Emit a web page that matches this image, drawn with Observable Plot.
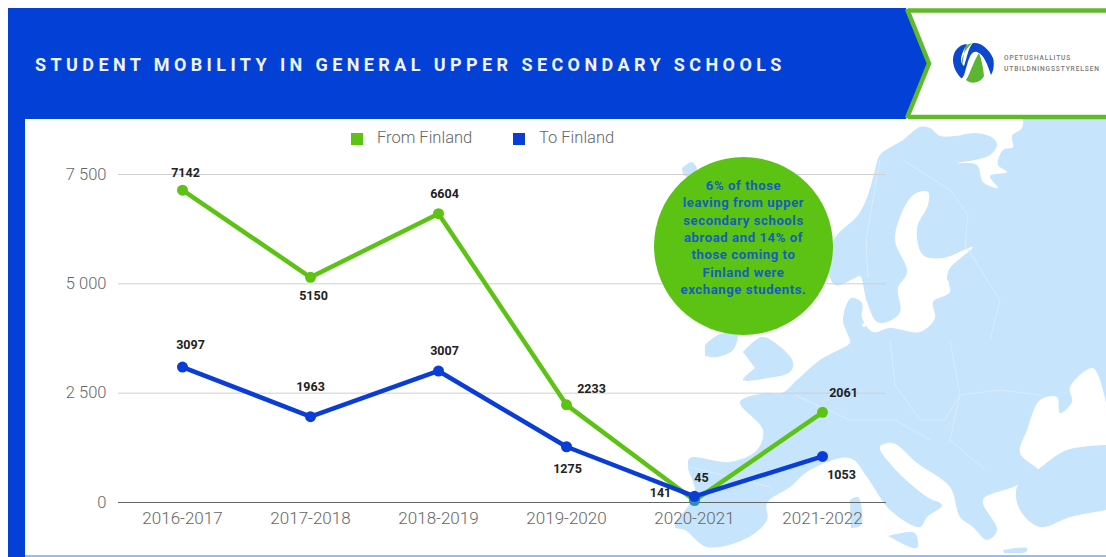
<!DOCTYPE html>
<html>
<head>
<meta charset="utf-8">
<script src="https://cdn.jsdelivr.net/npm/d3@7"></script>
<script src="https://cdn.jsdelivr.net/npm/@observablehq/plot@0.6"></script>
<style>
  html,body{margin:0;padding:0;background:#fff;}
  #stage{position:relative;width:1106px;height:557px;overflow:hidden;font-family:Roboto,sans-serif;}
  #stage>svg{position:absolute;left:0;top:0;}
  #stage>div{position:absolute;}
  #title{left:35px;top:53px;color:#eef3ff;font-weight:700;font-size:18px;letter-spacing:4.4px;white-space:nowrap;line-height:24px;}
  #stage>.lg{font-size:16.5px;font-weight:300;color:#666;line-height:20px;white-space:nowrap;top:128px;}
  #stage>.sw{width:12px;height:12px;top:133px;}
  #callout{left:654px;top:157px;width:179px;height:178px;border-radius:50%;background:#5cc314;}
  #stage>.cl{left:654px;width:179px;text-align:center;color:#1360b8;font-weight:700;font-size:13.2px;line-height:17px;white-space:nowrap;letter-spacing:.55px;}
</style>
</head>
<body>
<div id="stage"></div>
<script>
const years = ["2016-2017","2017-2018","2018-2019","2019-2020","2020-2021","2021-2022"];
const fromFinland = [7142,5150,6604,2233,45,2061];
const toFinland = [3097,1963,3007,1275,141,1053];
const yTicks = [0,2500,5000,7500];
const legendLabels = ["From Finland","To Finland"];
const titleText = "STUDENT MOBILITY IN GENERAL UPPER SECONDARY SCHOOLS";
const calloutLines = ["6% of those","leaving from upper","secondary schools","abroad and 14% of","those coming to","Finland were","exchange students."];
const logoLines = ["OPETUSHALLITUS","UTBILDNINGSSTYRELSEN"];

const GREEN="#5cc314", BLUE="#0a3dd8", TEAL="#2a8fb8", BAND="#0341d6", MAP="#c6e4fb";

// label offsets from their points, [dx, dy]
const fromOffsets=[[3,-17],[3,19],[6,-20],[25,-16],[7,-23],[21,-19]];
const toOffsets=[[8,-22],[0,-30],[6,-20],[1,22],[-34,-3],[19,19]];

const stage=document.getElementById("stage");

// Decorative background map outlines (not chart data)
const mapMain="1023,119 1022,128 1012,136 1013,147 1003,150 998,165 1007,172 990,176 998,188 983,182 977,165 957,163 975,160 990,155 997,145 993,138 975,133 955,136 940,136 930,128 920,127 903,140 880,155 875,170 868,195 858,215 835,238 828,265 835,285 855,278 860,276 867,302 877,322 887,322 900,312 898,288 907,272 895,238 913,195 928,192 928,205 917,228 923,255 943,258 973,247 950,268 947,278 950,292 933,302 935,318 920,332 890,328 873,332 862,318 862,303 851,298 843,320 850,340 850,343 820,360 797,380 782,393 765,393 740,402 763,430 757,450 730,462 690,458 688,467 695,493 675,527 685,530 707,547 747,538 767,520 767,503 790,487 810,470 850,458 867,477 890,510 920,527 927,517 942,505 927,497 893,467 880,447 893,443 917,463 950,487 960,517 973,527 987,540 997,530 983,500 1013,487 1040,473 1020,453 1027,430 1040,400 1057,397 1060,413 1072,402 1070,387 1093,368 1106,403";
const mapParts=[
 "1106,445 1067,450 1040,468 1017,487 1020,510 1040,527 1070,517 1106,510",
 "743,352 762,337 778,345 793,362 790,372 768,378 743,380 755,368",
 "705,345 718,335 737,333 733,350 716,357 705,356",
 "850,500 858,497 861,525 851,528",
 "888,536 915,533 917,548 905,545",
 "980,522 992,525 993,537 984,536",
 "1003,550 1027,548 1026,552 1004,553",
 "682,168 692,162 697,170 690,177 683,175"];
const pts=s=>s.split(" ").map(p=>p.split(",").map(Number));
const smooth=d3.line().curve(d3.curveCatmullRom.alpha(0.5));
const mainPath=smooth(pts(mapMain))+"L1106,403 L1106,119 Z";
const partPaths=mapParts.map((s,i)=>smooth(pts(s))+"Z");

stage.insertAdjacentHTML("beforeend",`
<svg width="1106" height="557" viewBox="0 0 1106 557">
  <rect x="8" y="8" width="1098" height="111" fill="${BAND}"/>
  <rect x="8" y="8" width="17" height="549" fill="${BAND}"/>
  <rect x="25" y="119" width="1081" height="438" fill="#fff"/>
  <g fill="${MAP}">
    <path d="${mainPath}"/>
    ${partPaths.map(d=>`<path d="${d}"/>`).join("")}
  </g>
  <g fill="#fff">
    <ellipse cx="911" cy="296" rx="2" ry="6"/>
    <circle cx="864" cy="325" r="2"/>
    <circle cx="946" cy="283" r="3"/>
  </g>
  <g fill="none" stroke="#d9eefc" stroke-width="1">
    <path d="M880,160 L866,240 868,278"/>
    <path d="M903,160 L950,190 968,215 965,245"/>
    <path d="M965,245 L1000,300 990,340"/>
    <path d="M890,340 L895,385 920,420 945,420 960,395 1000,390 1040,395"/>
    <path d="M795,395 L850,420 895,420 930,440"/>
    <path d="M950,340 L960,395 950,440 985,470"/>
    <path d="M690,467 L770,487"/>
  </g>
  <rect x="25" y="555" width="1081" height="2" fill="#8fbdf6"/>
  <path d="M906,8 H1106 V119 H906 L929,63.5 Z" fill="#fff"/>
  <path d="M908,10.5 H1106 M908,117 H1106" stroke="#5fba2a" stroke-width="4.5" fill="none"/>
  <path d="M907,9 L929,63.5 907,118" stroke="#5fba2a" stroke-width="4.5" fill="none"/>
  <path d="M965,46 A20,20 0 0 1 972,43 C965,50 960,58 962,68 Z" fill="#5cb531"/>
  <path d="M982,46 A20,20 0 0 1 993,60 C989,54 985,50 982,46 Z" fill="#5cb531"/>
  <path d="M979,53 C973,62 971,72 966,80 C970,84 980,84 984,76 C983,68 982,60 979,53 Z" fill="#5cb531"/>
  <path d="M973,43 C982,42 989,50 993,58 C995,65 993,72 991,75 C988,66 984,54 977,52 C970,50 968,62 965,72 C964,76 962,79 961,78 C955,72 951,62 954,54 C956,48 962,44 967,44 C962,52 958,62 964,66 C967,58 968,48 973,43 Z" fill="#0d47cf"/>
  <g font-family="Roboto,sans-serif" font-size="6.6" fill="#777" font-weight="500">
    <text x="1004" y="60" letter-spacing=".85">${logoLines[0]}</text>
    <text x="1004" y="71" letter-spacing=".9">${logoLines[1]}</text>
  </g>
</svg>`);

const rows=(vals)=>years.map((year,i)=>({year,value:vals[i]}));
const fromRows=rows(fromFinland), toRows=rows(toFinland);
const labelMarks=(data,offsets)=>data.map((d,i)=>Plot.text([d],{
  x:"year",y:"value",text:d=>String(d.value),dx:offsets[i][0],dy:offsets[i][1],
  fontSize:12.5,fontWeight:700,fill:"#222"}));

const chart=Plot.plot({
  width:1106,height:557,
  marginLeft:118,marginRight:220,marginTop:174,marginBottom:55,
  style:{background:"transparent",fontFamily:"Roboto,sans-serif"},
  x:{type:"point",domain:years,padding:0.5,label:null},
  y:{domain:[0,7500],label:null},
  marks:[
    Plot.ruleY(yTicks.filter(t=>t>0),{stroke:"#cfcfcf",strokeWidth:1}),
    Plot.ruleY([0],{stroke:"#666",strokeWidth:1}),
    Plot.axisY({ticks:yTicks,tickSize:0,tickPadding:12,fontSize:16.5,fontWeight:300,color:"#666",
      tickFormat:d=>d3.format(",")(d).replace(",","\u00a0"),label:null,anchor:"left"}),
    Plot.axisX({tickSize:0,tickPadding:9,fontSize:17,fontWeight:300,color:"#666",label:null}),
    Plot.line(fromRows,{x:"year",y:"value",stroke:GREEN,strokeWidth:4.5}),
    Plot.dot(fromRows,{x:"year",y:"value",r:5.5,fill:d=>d.value===45?TEAL:GREEN}),
    Plot.line(toRows,{x:"year",y:"value",stroke:BLUE,strokeWidth:4.5}),
    Plot.dot(toRows,{x:"year",y:"value",r:5.5,fill:BLUE}),
    ...labelMarks(fromRows,fromOffsets),
    ...labelMarks(toRows,toOffsets)
  ]
});
stage.appendChild(chart);

stage.insertAdjacentHTML("beforeend",`
  <div id="title">${titleText}</div>
  <div class="sw" style="left:351px;background:${GREEN}"></div>
  <div class="lg" style="left:377px">${legendLabels[0]}</div>
  <div class="sw" style="left:513px;background:${BLUE}"></div>
  <div class="lg" style="left:539px">${legendLabels[1]}</div>
  <div id="callout"></div>
  ${calloutLines.map((l,i)=>`<div class="cl" style="top:${177+i*17.3}px">${l}</div>`).join("")}
`);
</script>
</body>
</html>
